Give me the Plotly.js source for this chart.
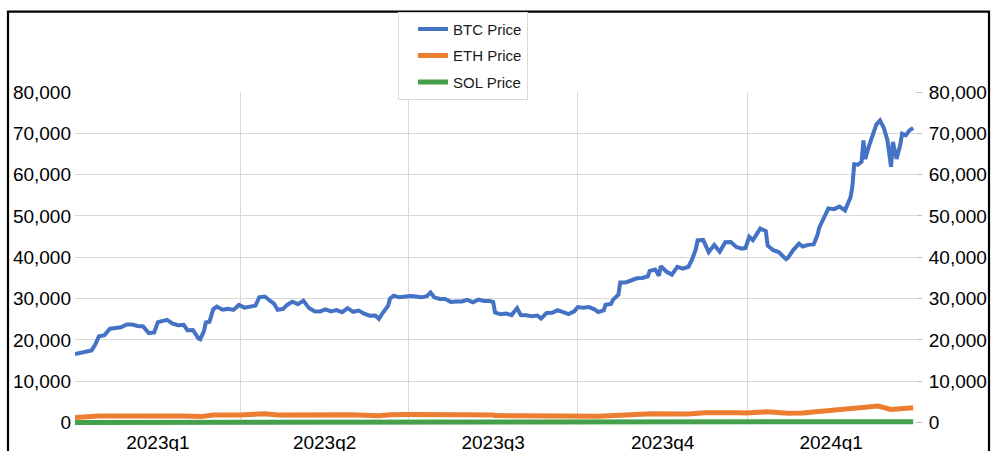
<!DOCTYPE html>
<html>
<head>
<meta charset="utf-8">
<script src="https://cdn.plot.ly/plotly-3.0.1.min.js"></script>
<style>html,body{margin:0;padding:0;background:#fff}#chart{width:992px;height:451px}</style>
</head>
<body>
<div id="chart"></div>
<script>
// ---------------- DATA ----------------
const btcDates = [
"2023-01-01","2023-01-04","2023-01-07","2023-01-10","2023-01-12","2023-01-14","2023-01-17","2023-01-20","2023-01-23","2023-01-26","2023-01-29",
"2023-02-01","2023-02-04","2023-02-07","2023-02-10","2023-02-13","2023-02-15","2023-02-17","2023-02-20","2023-02-23","2023-02-26",
"2023-03-01","2023-03-03","2023-03-06","2023-03-09","2023-03-10","2023-03-12","2023-03-13","2023-03-15","2023-03-17","2023-03-19","2023-03-22","2023-03-25","2023-03-28","2023-03-31",
"2023-04-03","2023-04-06","2023-04-09","2023-04-11","2023-04-14","2023-04-17","2023-04-19","2023-04-21","2023-04-24","2023-04-26","2023-04-29",
"2023-05-02","2023-05-05","2023-05-08","2023-05-11","2023-05-14","2023-05-17","2023-05-20","2023-05-23","2023-05-26","2023-05-29",
"2023-06-01","2023-06-04","2023-06-07","2023-06-10","2023-06-13","2023-06-15","2023-06-17","2023-06-20","2023-06-21","2023-06-23","2023-06-26","2023-06-29",
"2023-07-02","2023-07-05","2023-07-08","2023-07-11","2023-07-13","2023-07-15","2023-07-18","2023-07-21","2023-07-24","2023-07-27","2023-07-30",
"2023-08-02","2023-08-05","2023-08-08","2023-08-11","2023-08-14","2023-08-16","2023-08-17","2023-08-20","2023-08-23","2023-08-26","2023-08-29","2023-08-31",
"2023-09-03","2023-09-06","2023-09-09","2023-09-11","2023-09-14","2023-09-17","2023-09-20","2023-09-23","2023-09-26","2023-09-29",
"2023-10-01","2023-10-04","2023-10-07","2023-10-10","2023-10-12","2023-10-15","2023-10-16","2023-10-19","2023-10-20","2023-10-23","2023-10-24","2023-10-27","2023-10-30",
"2023-11-02","2023-11-05","2023-11-08","2023-11-09","2023-11-12","2023-11-14","2023-11-15","2023-11-18","2023-11-21","2023-11-24","2023-11-27","2023-11-30",
"2023-12-02","2023-12-04","2023-12-05","2023-12-08","2023-12-11","2023-12-14","2023-12-17","2023-12-20","2023-12-23","2023-12-26","2023-12-29","2023-12-31",
"2024-01-02","2024-01-04","2024-01-08","2024-01-11","2024-01-12","2024-01-15","2024-01-18","2024-01-22","2024-01-23","2024-01-26","2024-01-29","2024-01-31",
"2024-02-03","2024-02-06","2024-02-08","2024-02-09","2024-02-12","2024-02-14","2024-02-17","2024-02-20","2024-02-23","2024-02-26","2024-02-27","2024-02-28",
"2024-03-01","2024-03-03","2024-03-04","2024-03-05","2024-03-07","2024-03-08","2024-03-11","2024-03-13","2024-03-15","2024-03-17","2024-03-19","2024-03-20","2024-03-22","2024-03-24","2024-03-25","2024-03-27","2024-03-29","2024-03-31"
];
const btcPrice = [
16550,16850,16950,17450,18850,20900,21150,22700,22900,23050,23750,
23700,23350,23250,21650,21800,24300,24600,24850,23950,23550,
23650,22350,22400,20350,20150,22150,24200,24400,27400,28050,27300,27500,27250,28450,
27800,28050,28300,30300,30500,29450,28800,27300,27500,28400,29250,
28650,29500,27700,26950,26900,27400,26900,27200,26700,27700,
26800,27100,26350,25850,25900,25100,26500,28300,30000,30700,30300,30450,
30600,30500,30300,30600,31450,30300,29900,29900,29200,29300,29300,
29700,29100,29750,29400,29400,29200,26650,26200,26400,26000,27700,26000,
25950,25750,25900,25150,26500,26550,27200,26600,26250,26900,
27950,27800,27950,27400,26750,27150,28500,28700,29700,30950,33900,33900,34500,
34900,35000,35400,36700,37050,35550,37850,36550,35800,37700,37250,37700,
39450,41950,44100,44200,41250,43000,41350,43650,43700,42500,42100,42250,
44950,44150,46950,46350,42850,41700,41250,39550,39850,41800,43300,42600,
43000,43100,45300,47150,50000,51800,51650,52250,51350,54500,57100,62500,
62400,63100,68300,63800,66900,68300,72100,73100,71400,68400,61900,67900,63800,67200,69900,69500,70700,71300
];
const ethDates = [
"2023-01-01","2023-01-14","2023-01-31","2023-02-15","2023-02-28","2023-03-10","2023-03-17","2023-03-31",
"2023-04-14","2023-04-21","2023-04-30","2023-05-15","2023-05-31","2023-06-15","2023-06-21","2023-06-30",
"2023-07-13","2023-07-31","2023-08-16","2023-08-17","2023-08-31","2023-09-11","2023-09-30",
"2023-10-12","2023-10-24","2023-11-10","2023-11-30","2023-12-09","2023-12-28","2023-12-31",
"2024-01-12","2024-01-23","2024-01-31","2024-02-15","2024-02-29","2024-03-12","2024-03-19","2024-03-31"
];
const ethPrice = [
1200,1550,1585,1680,1605,1430,1800,1820,
2100,1850,1870,1820,1870,1650,1890,1930,
2000,1860,1800,1680,1650,1550,1670,
1540,1780,2100,2050,2350,2380,2280,
2600,2240,2280,2820,3380,4000,3160,3600
];
const solDates = [
"2023-01-01","2023-01-14","2023-02-15","2023-03-10","2023-03-31","2023-04-14","2023-05-31","2023-06-15","2023-06-30",
"2023-07-13","2023-07-31","2023-08-31","2023-09-30","2023-10-24","2023-11-10","2023-11-30","2023-12-25","2023-12-31",
"2024-01-12","2024-01-23","2024-01-31","2024-02-15","2024-02-29","2024-03-18","2024-03-31"
];
const solPrice = [
10,18,23,17,21,25,21,14,19,
27,24,20,21,32,56,59,120,102,
97,83,100,113,128,204,202
];
const quarterStarts = ["2023-01-01","2023-04-01","2023-07-01","2023-10-01","2024-01-01","2024-04-01"];
const quarterLabels = ["2023q1","2023q2","2023q3","2023q4","2024q1"];
const yTicks = [0,10000,20000,30000,40000,50000,60000,70000,80000];
const seriesNames = ["BTC Price","ETH Price","SOL Price"];

// ---------------- LAYOUT ----------------
const W = 992, H = 451;
const M = {l: 75, r: 77, t: 89, b: 26};
const PW = W - M.l - M.r, PH = H - M.t - M.b;
const FONT = "Liberation Sans, Arial, sans-serif";

const toMs = s => new Date(s + "T00:00:00Z").getTime();
const iso = ms => new Date(ms).toISOString().slice(0, 19).replace("T", " ");
const quarterMids = quarterLabels.map((_, i) => iso((toMs(quarterStarts[i]) + toMs(quarterStarts[i + 1])) / 2));
const innerBoundaries = quarterStarts.slice(1, -1);
const fmt = v => v.toLocaleString("en-US");
const yRange = [-600, yTicks[yTicks.length - 1]];

const traces = [
  {x: btcDates, y: btcPrice, name: seriesNames[0], type: "scatter", mode: "lines",
   line: {color: "#4472C4", width: 4}, yaxis: "y", legendgroup: "a", hoverinfo: "skip"},
  {x: ethDates, y: ethPrice, name: seriesNames[1], type: "scatter", mode: "lines",
   line: {color: "#ED7D31", width: 5}, yaxis: "y2", legendgroup: "b", hoverinfo: "skip"},
  {x: solDates, y: solPrice, name: seriesNames[2], type: "scatter", mode: "lines",
   line: {color: "#46A04B", width: 5}, yaxis: "y3", legendgroup: "c", hoverinfo: "skip"}
];

const layout = {
  width: W, height: H,
  margin: M,
  paper_bgcolor: "#fff", plot_bgcolor: "#fff",
  font: {family: FONT, size: 19, color: "#000"},
  showlegend: true,
  legend: {
    x: (398 - M.l) / PW, y: 1 + (M.t - 8) / PH, xanchor: "left", yanchor: "top",
    bgcolor: "#fff", bordercolor: "#d9d9d9", borderwidth: 1,
    font: {family: FONT, size: 15, color: "#1a1a1a"},
    traceorder: "grouped", tracegroupgap: 4, indentation: 14
  },
  xaxis: {
    type: "date", range: [quarterStarts[0], quarterStarts[quarterStarts.length - 1]],
    tickmode: "array", tickvals: quarterMids, ticktext: quarterLabels,
    showgrid: false, zeroline: false, showline: false, ticks: "",
    ticklabelstandoff: 4,
    tickfont: {family: FONT, size: 19, color: "#000"},
    minor: {tickmode: "array", tickvals: innerBoundaries, showgrid: true, gridcolor: "#d9d9d9", gridwidth: 1, ticks: ""},
    fixedrange: true
  },
  yaxis: {
    range: yRange, tickmode: "array", tickvals: yTicks, ticktext: yTicks.map(fmt),
    showgrid: false, zeroline: false, showline: false, ticks: "",
    ticklabelstandoff: 3,
    tickfont: {family: FONT, size: 19, color: "#000"}, fixedrange: true
  },
  yaxis2: {
    range: yRange, overlaying: "y", side: "right",
    tickmode: "array", tickvals: yTicks, ticktext: yTicks.map(fmt),
    showgrid: false, zeroline: false, showline: false,
    ticks: "outside", ticklen: 6, tickwidth: 1, tickcolor: "#bfbfbf",
    ticklabelstandoff: 3,
    tickfont: {family: FONT, size: 19, color: "#000"}, fixedrange: true
  },
  yaxis3: {
    range: yRange, overlaying: "y", side: "left",
    tickmode: "array", tickvals: yTicks.slice(1, -1),
    showticklabels: false, ticks: "",
    showgrid: true, gridcolor: "#d9d9d9", gridwidth: 1,
    zeroline: false, showline: false, fixedrange: true
  },
  shapes: [{
    type: "rect", xref: "paper", yref: "paper", layer: "above",
    x0: (8 - M.l) / PW, x1: (989 - M.l) / PW,
    y0: -(H + 10 - (M.t + PH)) / PH, y1: 1 + (M.t - 8) / PH,
    line: {color: "#000", width: 2.2}, fillcolor: "rgba(0,0,0,0)"
  }]
};

Plotly.newPlot("chart", traces, layout, {staticPlot: true, displayModeBar: false});
</script>
</body>
</html>
